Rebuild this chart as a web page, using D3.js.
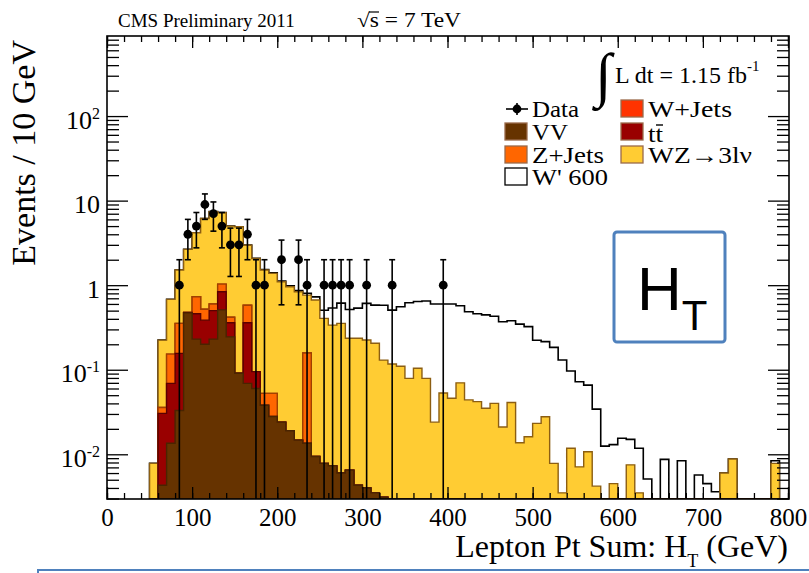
<!DOCTYPE html>
<html>
<head>
<meta charset="utf-8">
<script src="https://cdn.jsdelivr.net/npm/d3@7"></script>
<style>
body { margin: 0; background: #fff; }
svg text { font-family: "Liberation Serif", "Times New Roman", serif; fill: #000; }
</style>
</head>
<body>
<svg id="chart" width="809" height="573"></svg>
<script>
// 10 GeV bins, low edges 50 .. 790
const binLow = d3.range(50, 800, 10);

// per-bin contributions (events / 10 GeV)
const vv = [0, 0.0043, 0.0135, 0.033, 0.47, 0.23, 0.2, 0.23, 0.51, 0.245,
  0.091, 0.069, 0.06, 0.038, 0.028, 0.024, 0.019, 0.0147, 0.0135, 0.0094,
  0.0078, 0.0073, 0.006, 0.0065, 0.0043, 0.004, 0.0035, 0.0031, 0, 0,
  0, 0, 0, 0, 0, 0, 0, 0, 0, 0, 0, 0, 0, 0, 0, 0, 0, 0, 0, 0,
  0, 0, 0, 0, 0, 0, 0, 0, 0, 0, 0, 0, 0, 0, 0, 0, 0, 0, 0, 0, 0, 0, 0, 0, 0];
const ttbar = [0, 0.0262, 0.0555, 0.123, 0.005, 0.23, 0.186, 0.27, 0.326, 0.115,
  0, 0.291, 0.035, 0, 0, 0, 0, 0, 0, 0, 0, 0, 0, 0, 0, 0, 0, 0, 0, 0,
  0, 0, 0, 0, 0, 0, 0, 0, 0, 0, 0, 0, 0, 0, 0, 0, 0, 0, 0, 0,
  0, 0, 0, 0, 0, 0, 0, 0, 0, 0, 0, 0, 0, 0, 0, 0, 0, 0, 0, 0, 0, 0, 0, 0, 0];
const zjets = [0, 0.0053, 0.084, 0.197, 0, 0.27, 0.134, 0.1, 0.194, 0.057,
  0, 0.22, 0, 0.0145, 0.0245, 0, 0, 0, 0.1445, 0, 0, 0, 0, 0, 0, 0, 0, 0, 0, 0,
  0, 0, 0, 0, 0, 0, 0, 0, 0, 0, 0, 0, 0, 0, 0, 0, 0, 0, 0, 0,
  0, 0, 0, 0, 0, 0, 0, 0, 0, 0, 0, 0, 0, 0, 0, 0, 0, 0, 0, 0, 0, 0, 0, 0, 0];
const wjets = [0, 0, 0, 0, 0, 0, 0, 0, 0, 0, 0, 0, 0, 0, 0, 0, 0, 0, 0, 0, 0, 0, 0, 0, 0,
  0, 0, 0, 0, 0, 0, 0, 0, 0, 0, 0, 0, 0, 0, 0, 0, 0, 0, 0, 0, 0, 0, 0, 0, 0,
  0, 0, 0, 0, 0, 0, 0, 0, 0, 0, 0, 0, 0, 0, 0, 0, 0, 0, 0, 0, 0, 0, 0, 0, 0];
const wz = [0.0078, 0.188, 0.527, 1.157, 2.175, 3.44, 5.63, 6.8, 6.17, 4.58,
  4.81, 2.39, 1.975, 1.458, 1.328, 1.076, 0.938, 0.82, 0.605, 0.658,
  0.397, 0.33, 0.347, 0.229, 0.231, 0.221, 0.202, 0.127, 0.117, 0.11,
  0.079, 0.104, 0.079, 0.024, 0.053, 0.046, 0.07, 0.044, 0.042, 0.035,
  0.04, 0.021, 0.041, 0.0137, 0.0161, 0.0232, 0.0278, 0.0078, 0.0035, 0.0118,
  0.0071, 0.0107, 0.0042, 0, 0.0045, 0, 0.0075, 0.0035, 0, 0,
  0, 0, 0, 0, 0, 0, 0, 0.006, 0.0088, 0, 0, 0, 0, 0.0078, 0];
const wprime = [0, 0, 0, 0.001, 0.001, 0.002, 0.002, 0.003, 0.004, 0.005,
  0.007, 0.009, 0.012, 0.015, 0.018, 0.02, 0.025, 0.03, 0.04, 0.06,
  0.1, 0.2, 0.26, 0.28, 0.3, 0.385, 0.375, 0.45, 0.39, 0.446,
  0.54, 0.536, 0.57, 0.576, 0.547, 0.554, 0.5, 0.441, 0.418, 0.41,
  0.39, 0.349, 0.339, 0.333, 0.307, 0.2, 0.187, 0.176, 0.127, 0.085,
  0.065, 0.055, 0.03, 0.0125, 0.0085, 0.0155, 0.0075, 0.0083, 0.0051, 0,
  0.0087, 0, 0.0084, 0, 0.0057, 0.0045, 0.0036, 0, 0, 0, 0, 0, 0, 0.0006, 0];
const data = [0, 0, 0, 1, 4, 5, 9, 7, 5, 3, 3, 4, 1, 1, 0, 2, 0, 2, 1, 0,
  1, 1, 1, 1, 0, 1, 0, 0, 1, 0, 0, 0, 0, 0, 1, 0, 0, 0, 0, 0,
  0, 0, 0, 0, 0, 0, 0, 0, 0, 0, 0, 0, 0, 0, 0, 0, 0, 0, 0, 0,
  0, 0, 0, 0, 0, 0, 0, 0, 0, 0, 0, 0, 0, 0, 0];

const xTicks = [0, 100, 200, 300, 400, 500, 600, 700, 800];
const xMinorTicks = d3.range(0, 801, 20);
const yTicks = [0.01, 0.1, 1, 10, 100];
const yTickLabels = [["10", "-2"], ["10", "-1"], ["1", ""], ["10", ""], ["10", "2"]];

const svg = d3.select("#chart");
const pL = 107, pR = 789, pT = 36, pB = 499;

const x = d3.scaleLinear().domain([0, 800]).range([pL, 788]);
const y = d3.scaleLog().domain([0.00296, 885]).range([pB, pT]).clamp(true);

const rows = binLow.map((lo, i) => ({
  lo, vv: vv[i], ttbar: ttbar[i], zjets: zjets[i], wjets: wjets[i], wz: wz[i], wprime: wprime[i]
}));
const keys = ["vv", "ttbar", "zjets", "wjets", "wz", "wprime"];
const layers = d3.stack().keys(keys)(rows);

const styles = {
  vv: { fill: "#663300", stroke: "#4a2400" },
  ttbar: { fill: "#990000", stroke: "#5a0000" },
  zjets: { fill: "#ff6600", stroke: "#a04000" },
  wjets: { fill: "#ff3300", stroke: "#992200" },
  wz: { fill: "#ffcc33", stroke: "#8c5e12" },
  wprime: { fill: "#ffffff", stroke: "#000000" }
};

svg.append("defs").append("clipPath").attr("id", "plot")
  .append("rect").attr("x", pL).attr("y", pT)
  .attr("width", pR - pL).attr("height", pB - pT);

const area = d3.area()
  .curve(d3.curveStepAfter)
  .x((d) => x(d[0]))
  .y0(pB)
  .y1((d) => y(d[1]));

const hist = svg.append("g").attr("clip-path", "url(#plot)");

// ROOT-style stack: each cumulative histogram drawn from the axis, top one first
layers.slice().reverse().forEach((layer) => {
  const pts = layer.map((d) => [d.data.lo, d[1]]);
  pts.push([800, pts[pts.length - 1][1]]);
  hist.append("path")
    .attr("d", area(pts))
    .attr("fill", styles[layer.key].fill)
    .attr("stroke", styles[layer.key].stroke)
    .attr("stroke-width", layer.key === "wprime" ? 1.6 : 1.4);
});

// data points with sqrt(N) errors
const points = binLow.map((lo, i) => ({ c: lo + 5, n: data[i] })).filter((d) => d.n > 0);
const dataG = svg.append("g").attr("clip-path", "url(#plot)");
points.forEach((d) => {
  const e = Math.sqrt(d.n);
  const px = x(d.c);
  const yHi = y(d.n + e), yLo = y(d.n - e);
  dataG.append("line").attr("x1", px).attr("x2", px).attr("y1", yHi).attr("y2", yLo)
    .attr("stroke", "#000").attr("stroke-width", 1.6);
  dataG.append("line").attr("x1", px - 3).attr("x2", px + 3).attr("y1", yHi).attr("y2", yHi)
    .attr("stroke", "#000").attr("stroke-width", 1.6);
  if (d.n - e > 0) {
    dataG.append("line").attr("x1", px - 3).attr("x2", px + 3).attr("y1", yLo).attr("y2", yLo)
      .attr("stroke", "#000").attr("stroke-width", 1.6);
  }
  dataG.append("circle").attr("cx", px).attr("cy", y(d.n)).attr("r", 4.4).attr("fill", "#000");
});

// frame
svg.append("rect").attr("x", pL).attr("y", pT)
  .attr("width", pR - pL).attr("height", pB - pT)
  .attr("fill", "none").attr("stroke", "#000").attr("stroke-width", 1.6);

// axes (ticks inside, on all four sides)
const noDomain = (g) => g.select(".domain").remove();
const tickStroke = (g) => g.selectAll("line").attr("stroke", "#000").attr("stroke-width", 1.3);

svg.append("g").attr("transform", `translate(0,${pB})`)
  .call(d3.axisBottom(x).tickValues(xMinorTicks).tickSize(-6).tickFormat(""))
  .call(noDomain).call(tickStroke);
const xAxis = svg.append("g").attr("transform", `translate(0,${pB})`)
  .call(d3.axisBottom(x).tickValues(xTicks).tickSize(-12).tickPadding(9).tickFormat(d3.format("d")))
  .call(noDomain).call(tickStroke);
xAxis.selectAll("text")
  .attr("font-family", "Liberation Serif, serif").attr("font-size", 25).attr("fill", "#000");

svg.append("g").attr("transform", `translate(0,${pT})`)
  .call(d3.axisTop(x).tickValues(xMinorTicks).tickSize(-6).tickFormat(""))
  .call(noDomain).call(tickStroke);
svg.append("g").attr("transform", `translate(0,${pT})`)
  .call(d3.axisTop(x).tickValues(xTicks).tickSize(-12).tickFormat(""))
  .call(noDomain).call(tickStroke);

const yMinor = [];
[0.001, 0.01, 0.1, 1, 10, 100].forEach((dec) => {
  [2, 3, 4, 5, 6, 7, 8, 9].forEach((m) => {
    const v = m * dec;
    if (v >= y.domain()[0] && v <= y.domain()[1]) yMinor.push(v);
  });
});

[[pL, d3.axisLeft], [pR, d3.axisRight]].forEach(([pos, ax]) => {
  svg.append("g").attr("transform", `translate(${pos},0)`)
    .call(ax(y).tickValues(yMinor).tickSize(-12).tickFormat(""))
    .call(noDomain).call(tickStroke);
  svg.append("g").attr("transform", `translate(${pos},0)`)
    .call(ax(y).tickValues(yTicks).tickSize(-21).tickFormat(""))
    .call(noDomain).call(tickStroke);
});

// y tick labels with superscripts
const yLab = svg.append("g");
yTicks.forEach((v, i) => {
  const t = yLab.append("text")
    .attr("x", 100).attr("y", y(v) + 12.5)
    .attr("text-anchor", "end").attr("font-size", 26);
  t.append("tspan").text(yTickLabels[i][0]);
  if (yTickLabels[i][1]) {
    t.append("tspan").attr("dy", -10).attr("font-size", 16).text(yTickLabels[i][1]);
  }
});

// axis titles
const xt = svg.append("text")
  .attr("x", 788).attr("y", 557).attr("text-anchor", "end").attr("font-size", 32);
xt.append("tspan").text("Lepton Pt Sum: H");
xt.append("tspan").attr("dy", 10).attr("font-size", 18).text("T");
xt.append("tspan").attr("dy", -10).text(" (GeV)");

svg.append("text")
  .attr("transform", "translate(35,40) rotate(-90)")
  .attr("text-anchor", "end").attr("font-size", 34)
  .text("Events / 10 GeV");

// header
svg.append("text").attr("x", 118).attr("y", 27).attr("font-size", 19).text("CMS Preliminary 2011");
svg.append("text").attr("x", 357).attr("y", 27).attr("font-size", 20)
  .attr("textLength", 104).attr("lengthAdjust", "spacingAndGlyphs").text("√s = 7 TeV");
svg.append("line").attr("x1", 369).attr("x2", 379).attr("y1", 12).attr("y2", 12)
  .attr("stroke", "#000").attr("stroke-width", 1.2);

// luminosity
svg.append("text").attr("x", 595).attr("y", 95).attr("font-size", 60).text("∫");
const lumi = svg.append("text").attr("x", 615).attr("y", 83).attr("font-size", 24);
lumi.append("tspan").text("L dt = 1.15 fb");
lumi.append("tspan").attr("dy", -12).attr("font-size", 15).text("-1");

// legend
const legendItems = [
  { key: "data", label: "Data", col: 0, row: 0, w: 47 },
  { key: "wjets", label: "W+Jets", col: 1, row: 0, w: 84 },
  { key: "vv", label: "VV", col: 0, row: 1, w: 36 },
  { key: "ttbar", label: "tt", col: 1, row: 1, w: 15 },
  { key: "zjets", label: "Z+Jets", col: 0, row: 2, w: 72 },
  { key: "wz", label: "WZ→3lν", col: 1, row: 2, w: 104 },
  { key: "wprime", label: "W' 600", col: 0, row: 3, w: 76 }
];
const colX = [505, 621];
const rowBase = [117, 140, 163, 185];
const legend = svg.append("g");
legendItems.forEach((it) => {
  const bx = colX[it.col], by = rowBase[it.row];
  if (it.key === "data") {
    legend.append("line").attr("x1", bx + 1).attr("x2", bx + 23).attr("y1", by - 8).attr("y2", by - 8)
      .attr("stroke", "#000").attr("stroke-width", 1.6);
    legend.append("line").attr("x1", bx + 12).attr("x2", bx + 12).attr("y1", by - 14).attr("y2", by - 2)
      .attr("stroke", "#000").attr("stroke-width", 1.6);
    legend.append("circle").attr("cx", bx + 12).attr("cy", by - 8).attr("r", 4.4).attr("fill", "#000");
  } else {
    legend.append("rect").attr("x", bx).attr("y", by - 17).attr("width", 22).attr("height", 17)
      .attr("fill", styles[it.key].fill).attr("stroke", it.key === "wprime" ? "#000" : "#9a6a4a")
      .attr("stroke-width", 1.3);
  }
  legend.append("text").attr("x", bx + 27).attr("y", it.key === "ttbar" ? by + 2 : by)
    .attr("font-size", 24).attr("textLength", it.w).attr("lengthAdjust", "spacingAndGlyphs")
    .text(it.label);
  if (it.key === "ttbar") {
    legend.append("line").attr("x1", bx + 35).attr("x2", bx + 42).attr("y1", by - 15).attr("y2", by - 15)
      .attr("stroke", "#000").attr("stroke-width", 1.4);
  }
});

// H_T annotation box
svg.append("rect").attr("x", 614).attr("y", 232).attr("width", 111).attr("height", 110)
  .attr("rx", 3).attr("fill", "#fff").attr("stroke", "#4f81bd").attr("stroke-width", 3);
const ht = svg.append("text").attr("x", 637).attr("y", 310)
  .style("font-family", "Liberation Sans, Arial, sans-serif").attr("font-size", 62);
ht.append("tspan").text("H");
ht.append("tspan").attr("dy", 20).attr("font-size", 42).text("T");

// slide frame edge at the bottom
svg.append("rect").attr("x", 38).attr("y", 570).attr("width", 800).attr("height", 30)
  .attr("fill", "none").attr("stroke", "#4f81bd").attr("stroke-width", 2);
</script>
</body>
</html>
